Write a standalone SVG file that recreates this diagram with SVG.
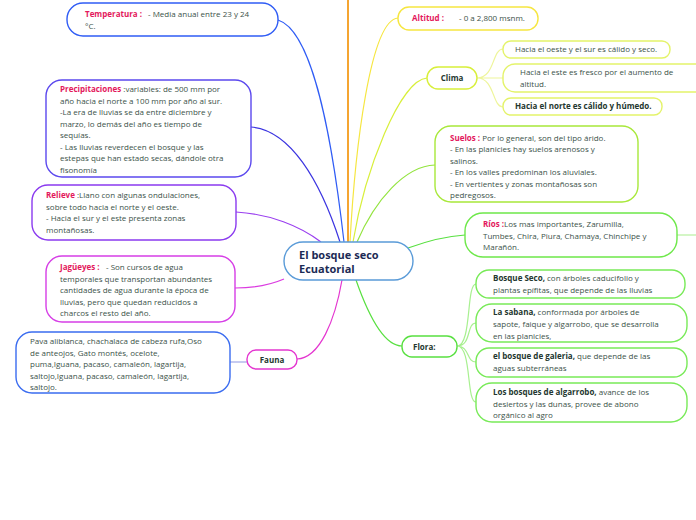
<svg xmlns="http://www.w3.org/2000/svg" width="696" height="520" viewBox="0 0 696 520">
<style>
text{font-family:"Open Sans","Noto Sans","Liberation Sans",sans-serif;font-size:8px;fill:#3b5249}
.lbl{fill:#e3185c;font-weight:bold}
.b{font-weight:bold;fill:#24372f}
.n{fill:#fff;stroke-width:1.4}
.c{fill:none;stroke-width:1.2}
.ctr{font-size:11px;font-weight:bold;fill:#1c2b55}
</style>
<rect width="696" height="520" fill="#fff"/>
<g id="connectors">
<path d="M348 0V242" stroke="#f5a531" stroke-width="2" fill="none"/>
<path class="c" stroke="#2f5cf5" d="M278 20C310 30 330 120 344 242"/>
<path class="c" stroke="#3b34e0" d="M251 127C290 130 320 180 340 242"/>
<path class="c" stroke="#9a3fef" d="M236 212C270 214 300 226 321 242"/>
<path class="c" stroke="#db3be0" d="M235 288C255 288 270 285 284 279"/>
<path class="c" stroke="#e436d0" d="M297 359C320 358 335 320 342 280"/>
<path class="c" stroke="#a0a8e8" d="M230 362H247"/>
<path class="c" stroke="#f6e640" d="M350 242C355 150 370 20 398 18"/>
<path class="c" stroke="#d8ef3a" d="M353 242C365 170 400 80 427 78"/>
<path class="c" stroke="#93e43e" d="M357 242C375 200 405 166 435 165"/>
<path class="c" stroke="#58e040" d="M408 248C430 240 450 236 465 235"/>
<path class="c" stroke="#b8f0a0" d="M677 235H696"/>
<path class="c" stroke="#58e040" d="M356 280C370 320 385 346 402 346"/>
<path class="c" stroke="#eef59a" d="M477 78C495 78 492 49 503 49M477 78H503M477 78C495 78 492 107 503 107"/>
<path class="c" stroke="#a8f090" d="M457 346C472 346 466 284 476 284M457 346C472 346 466 323 476 323M457 346C470 346 466 362 476 362M457 346C472 346 466 402 476 402"/>
</g>
<g id="center"><rect class="n" x="284" y="242" width="129" height="38" rx="19" stroke="#5a9bd8"/><text class="ctr" x="299" y="259">El bosque seco</text><text class="ctr" x="299" y="273">Ecuatorial</text></g>
<g id="temperatura"><rect class="n" x="67" y="3" width="211" height="33" rx="16" stroke="#2f5cf5"/><text x="85" y="17"><tspan class="lbl">Temperatura :</tspan><tspan x="148">- Media anual entre 23 y 24</tspan></text><text x="85" y="29">°C.</text></g>
<g id="precipitaciones"><rect class="n" x="46" y="80" width="205" height="97" rx="16" stroke="#5b48ee"/>
<text x="60" y="92"><tspan class="lbl">Precipitaciones </tspan>:variables: de 500 mm por</text>
<text x="60" y="103.5">año hacia el norte a 100 mm por año al sur.</text>
<text x="60" y="115">-La era de lluvias se da entre diciembre y</text>
<text x="60" y="126.5">marzo, lo demás del año es tiempo de</text>
<text x="60" y="138">sequías.</text>
<text x="60" y="149.5">- Las lluvias reverdecen el bosque y las</text>
<text x="60" y="161">estepas que han estado secas, dándole otra</text>
<text x="60" y="172.5">fisonomía</text></g>
<g id="relieve"><rect class="n" x="32" y="185" width="204" height="55" rx="16" stroke="#8a3aef"/>
<text x="46" y="198"><tspan class="lbl">Relieve </tspan>:Llano con algunas ondulaciones,</text>
<text x="46" y="209.5">sobre todo hacia el norte y el oeste.</text>
<text x="46" y="221">- Hacia el sur y el este presenta zonas</text>
<text x="46" y="232.5">montañosas.</text></g>
<g id="jagueyes"><rect class="n" x="46" y="256" width="189" height="66" rx="16" stroke="#d63ee6"/>
<text x="60" y="270"><tspan class="lbl">Jagüeyes :</tspan><tspan x="106">- Son cursos de agua</tspan></text>
<text x="60" y="281.5">temporales que transportan abundantes</text>
<text x="60" y="293">cantidades de agua durante la época de</text>
<text x="60" y="304.5">lluvias, pero que quedan reducidos a</text>
<text x="60" y="316">charcos el resto del año.</text></g>
<g id="fauna-detalle"><rect class="n" x="16" y="332" width="214" height="61" rx="16" stroke="#3a6cf0"/>
<text x="30" y="344">Pava aliblanca, chachalaca de cabeza rufa,Oso</text>
<text x="30" y="355.5">de anteojos, Gato montés, ocelote,</text>
<text x="30" y="367">puma,Iguana, pacaso, camaleón, lagartija,</text>
<text x="30" y="378.5">saltojo,Iguana, pacaso, camaleón, lagartija,</text>
<text x="30" y="390">saltojo.</text></g>
<g id="fauna"><rect class="n" x="247" y="350" width="50" height="19" rx="9" stroke="#e436d0"/><text class="b" x="272" y="362.5" text-anchor="middle">Fauna</text></g>
<g id="altitud"><rect class="n" x="398" y="7" width="140" height="23" rx="11" stroke="#f6e640"/><text x="412" y="21"><tspan class="lbl">Altitud :</tspan><tspan x="459">- 0 a 2,800 msnm.</tspan></text></g>
<g id="clima"><rect class="n" x="427" y="67" width="50" height="22" rx="11" stroke="#d8ef3a"/><text class="b" x="452" y="81" text-anchor="middle">Clima</text></g>
<g id="clima1"><rect class="n" x="503" y="41" width="167" height="17" rx="8" stroke="#e4f36a"/><text x="515" y="52">Hacia el oeste y el sur es cálido y seco.</text></g>
<g id="clima2"><rect class="n" x="503" y="64" width="210" height="28" rx="12" stroke="#e4f36a"/><text x="520" y="75">Hacia el este es fresco por el aumento de</text><text x="520" y="87">altitud.</text></g>
<g id="clima3"><rect class="n" x="503" y="98" width="159" height="17" rx="8" stroke="#e4f36a"/><text class="b" x="515" y="109">Hacia el norte es cálido y húmedo.</text></g>
<g id="suelos"><rect class="n" x="435" y="126" width="203" height="76" rx="16" stroke="#a8e83a"/>
<text x="450" y="140.5"><tspan class="lbl">Suelos : </tspan>Por lo general, son del tipo árido.</text>
<text x="450" y="152">- En las planicies hay suelos arenosos y</text>
<text x="450" y="163.5">salinos.</text>
<text x="450" y="175">- En los valles predominan los aluviales.</text>
<text x="450" y="186.5">- En vertientes y zonas montañosas son</text>
<text x="450" y="198">pedregosos.</text></g>
<g id="rios"><rect class="n" x="465" y="213" width="212" height="44" rx="18" stroke="#6ee84a"/>
<text x="483" y="227"><tspan class="lbl">Ríos :</tspan>Los mas importantes, Zarumilla,</text>
<text x="483" y="238.5">Tumbes, Chira, Piura, Chamaya, Chinchipe y</text>
<text x="483" y="250">Marañón.</text></g>
<g id="flora"><rect class="n" x="402" y="336" width="55" height="21" rx="10" stroke="#58e040"/><text class="b" x="413" y="350">Flora:</text></g>
<g id="bosque-seco"><rect class="n" x="476" y="270" width="209" height="28" rx="13" stroke="#78ea58"/>
<text x="493" y="281"><tspan class="b">Bosque Seco, </tspan>con árboles caducifolio y</text>
<text x="493" y="293">plantas epífitas, que depende de las lluvias</text></g>
<g id="sabana"><rect class="n" x="476" y="304" width="211" height="38" rx="16" stroke="#78ea58"/>
<text x="493" y="315"><tspan class="b">La sabana, </tspan>conformada por árboles de</text>
<text x="493" y="327">sapote, faique y algarrobo, que se desarrolla</text>
<text x="493" y="339">en las planicies,</text></g>
<g id="galeria"><rect class="n" x="476" y="348" width="211" height="29" rx="13" stroke="#78ea58"/>
<text x="493" y="359"><tspan class="b">el bosque de galeria, </tspan>que depende de las</text>
<text x="493" y="371">aguas subterráneas</text></g>
<g id="algarrobo"><rect class="n" x="476" y="383" width="211" height="39" rx="16" stroke="#78ea58"/>
<text x="493" y="395"><tspan class="b">Los bosques de algarrobo, </tspan>avance de los</text>
<text x="493" y="406.5">desiertos y las dunas, provee de abono</text>
<text x="493" y="418">orgánico al agro</text></g>
</svg>
